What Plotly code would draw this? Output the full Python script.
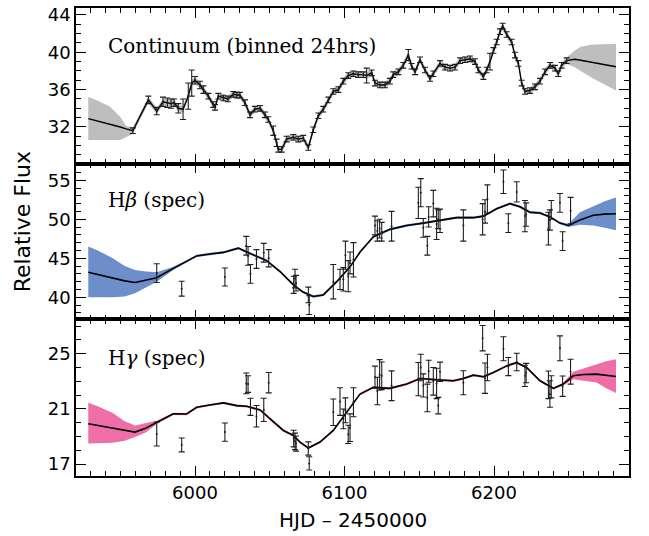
import plotly.graph_objects as go
from plotly.subplots import make_subplots

# ---------------- Continuum (binned 24 hrs) ----------------
cont_x = [5958.4, 5968.8, 5974.4, 5978.6, 5981.5, 5984.0, 5986.0, 5988.8, 5992.0, 5995.5,
          5997.8, 6000.0, 6003.3, 6005.6, 6008.9, 6012.2, 6013.4, 6015.6, 6019.0, 6022.0,
          6025.6, 6028.0, 6030.0, 6033.4, 6036.8, 6040.0, 6043.5, 6046.8, 6049.0, 6052.4,
          6054.6, 6055.7, 6058.0, 6061.3, 6065.8, 6069.1, 6072.4, 6075.8, 6079.1, 6082.5,
          6085.8, 6089.2, 6092.5, 6095.9, 6099.2, 6102.5, 6105.9, 6109.2, 6112.6, 6114.8,
          6118.2, 6120.4, 6123.7, 6127.1, 6130.4, 6132.6, 6136.0, 6139.3, 6142.7, 6144.9,
          6147.2, 6150.5, 6153.8, 6157.2, 6159.4, 6163.9, 6167.2, 6170.6, 6173.9, 6177.3,
          6180.6, 6184.0, 6187.3, 6189.5, 6192.9, 6195.1, 6197.3, 6199.6, 6201.8, 6204.0,
          6205.8, 6208.5, 6211.8, 6214.0, 6216.3, 6218.5, 6220.7, 6224.0, 6227.4, 6230.8,
          6234.1, 6237.5, 6240.8, 6243.0, 6245.2, 6248.6]
cont_y = [31.6, 34.9, 33.7, 34.7, 34.6, 34.5, 34.6, 34.0, 33.9, 35.3,
          36.7, 37.0, 36.5, 36.0, 35.3, 34.4, 34.1, 35.3, 35.1, 35.0,
          35.5, 35.4, 35.4, 34.6, 33.3, 33.9, 34.0, 33.3, 32.8, 31.6,
          30.3, 29.6, 29.6, 30.7, 30.9, 30.7, 30.8, 29.8, 31.7, 33.2,
          33.9, 34.9, 35.8, 36.0, 36.9, 37.5, 37.7, 37.6, 37.6, 37.5,
          37.8, 36.7, 36.5, 36.5, 36.9, 37.6, 37.9, 38.6, 39.7, 38.5,
          37.9, 39.2, 38.1, 37.2, 37.7, 38.8, 38.4, 38.3, 38.4, 39.1,
          39.2, 39.3, 39.0, 38.1, 37.4, 38.1, 39.0, 40.2, 41.1, 42.2,
          42.8, 41.9, 41.1, 39.7, 38.8, 36.7, 35.8, 35.9, 36.3, 36.9,
          37.9, 38.6, 38.3, 37.7, 38.6, 39.1]
cont_err = [0.3, 0.4, 0.4, 0.5, 0.5, 0.5, 0.4, 0.5, 1.1, 1.4,
            1.4, 0.4, 0.4, 0.4, 0.3, 0.3, 0.3, 0.3, 0.3, 0.3,
            0.3, 0.3, 0.3, 0.3, 0.3, 0.3, 0.3, 0.3, 0.3, 0.5,
            0.4, 0.3, 0.3, 0.3, 0.3, 0.3, 0.3, 0.3, 0.3, 0.3,
            0.3, 0.3, 0.3, 0.3, 0.3, 0.3, 0.3, 0.3, 0.3, 0.8,
            0.3, 0.3, 0.3, 0.3, 0.3, 0.3, 0.3, 0.3, 0.6, 0.3,
            0.3, 0.3, 0.3, 0.3, 0.3, 0.3, 0.3, 0.3, 0.3, 0.3,
            0.3, 0.3, 0.3, 0.3, 0.3, 0.3, 0.9, 0.3, 0.3, 0.3,
            0.3, 0.3, 0.3, 0.3, 0.3, 0.3, 0.3, 0.3, 0.3, 0.3,
            0.3, 0.3, 0.3, 0.3, 0.3, 0.3]
cont_band_halfwidth = 0.35
# model extrapolations before / after the data
cont_pre_x = [5928.6, 5935.0, 5943.0, 5950.0, 5954.0]
cont_pre_y = [32.9, 32.65, 32.3, 32.0, 31.8]
cont_pre_hi = [35.2, 34.8, 34.2, 33.1, 32.1]
cont_pre_lo = [30.6, 30.6, 30.6, 30.6, 30.9]
cont_post_x = [6251.0, 6254.0, 6258.0, 6265.0, 6273.0, 6281.6]
cont_post_y = [39.2, 39.25, 39.15, 38.95, 38.7, 38.45]
cont_post_hi = [39.8, 40.2, 40.6, 40.8, 40.85, 40.9]
cont_post_lo = [38.6, 38.4, 38.0, 37.3, 36.6, 35.9]

# ---------------- Spectroscopic epochs ----------------
spec_x = [5974.4, 5991.1, 6020.0, 6034.3, 6035.5, 6037.1, 6041.1, 6046.0, 6049.3, 6066.0,
          6066.9, 6067.6, 6075.8, 6076.4, 6092.5, 6097.0, 6099.2, 6100.6, 6102.5, 6103.7,
          6106.0, 6120.4, 6122.0, 6123.5, 6124.9, 6131.5, 6149.4, 6151.0, 6152.7, 6155.4,
          6156.3, 6159.4, 6161.6, 6162.7, 6163.9, 6179.5, 6192.4, 6194.0, 6195.6, 6206.3,
          6209.6, 6215.2, 6220.7, 6221.5, 6236.4, 6237.4, 6238.3, 6244.1, 6245.9, 6251.2]

hb_y = [43.1, 41.1, 42.6, 46.6, 45.3, 43.0, 44.9, 45.7, 45.0, 41.6,
        42.4, 41.8, 40.3, 39.0, 42.0, 42.3, 42.3, 45.4, 42.7, 44.4,
        44.8, 49.2, 48.5, 48.8, 48.4, 49.1, 52.1, 53.4, 48.9, 46.6,
        50.3, 52.0, 49.4, 50.0, 49.8, 49.2, 50.0, 51.0, 52.6, 54.8,
        49.5, 53.5, 50.4, 50.6, 48.8, 49.9, 51.2, 52.1, 47.2, 51.1]
hb_err = [1.2, 0.95, 1.15, 1.2, 1.2, 1.2, 1.2, 1.2, 1.1, 1.1,
          1.2, 1.0, 1.0, 1.2, 2.2, 1.3, 1.5, 1.8, 2.0, 1.4,
          2.2, 1.2, 1.3, 1.2, 1.2, 1.9, 2.0, 1.8, 1.2, 1.2,
          1.3, 1.7, 2.0, 1.2, 1.5, 2.0, 2.0, 1.5, 1.8, 1.5,
          1.2, 1.3, 2.0, 1.5, 2.1, 1.3, 1.2, 1.2, 1.2, 1.7]

hg_y = [19.18, 18.39, 19.32, 22.85, 22.8, 21.15, 20.47, 20.93, 22.9, 18.85,
        18.65, 18.49, 18.13, 17.05, 20.76, 21.53, 20.28, 20.9, 19.16, 19.64,
        21.48, 23.3, 22.3, 23.47, 23.4, 22.68, 23.16, 24.0, 22.7, 21.8,
        23.73, 23.0, 22.85, 21.24, 23.69, 22.9, 26.13, 23.23, 24.0, 25.36,
        24.07, 24.4, 23.4, 23.6, 22.75, 22.08, 22.6, 25.39, 22.65, 23.7]
hg_err = [0.87, 0.5, 0.66, 0.75, 0.6, 0.62, 0.78, 0.84, 0.74, 0.6,
          0.6, 0.55, 0.48, 0.48, 0.96, 1.0, 0.72, 0.9, 0.66, 1.0,
          1.05, 0.8, 1.0, 1.1, 1.0, 1.08, 1.2, 0.96, 0.84, 1.0,
          0.8, 1.0, 1.1, 0.6, 0.7, 0.87, 0.92, 1.1, 0.96, 0.87,
          0.66, 0.63, 0.77, 0.7, 1.0, 0.96, 0.8, 0.9, 0.74, 0.9]

# ---------------- Model curves (Hbeta) ----------------
hb_mx = [5928.6, 5935.0, 5945.0, 5953.0, 5959.9, 5967.0, 5974.4, 5985.5, 5994.4, 6001.1,
         6010.0, 6019.0, 6029.0, 6033.4, 6047.9, 6056.9, 6065.8, 6072.0, 6079.1, 6085.8,
         6094.8, 6103.7, 6110.4, 6119.3, 6130.4, 6141.6, 6152.7, 6163.9, 6175.0, 6186.2,
         6192.9, 6201.8, 6210.7, 6217.4, 6224.0, 6230.8, 6237.5, 6244.1, 6249.8, 6257.5,
         6266.4, 6274.0, 6281.6]
hb_my = [43.2, 42.9, 42.5, 42.1, 41.9, 42.2, 42.5, 43.7, 44.6, 45.3,
         45.55, 45.75, 46.3, 45.9, 44.7, 43.3, 41.6, 40.7, 40.1, 40.3,
         42.0, 43.9, 45.8, 47.75, 48.7, 49.2, 49.5, 49.9, 50.2, 50.2,
         50.4, 51.35, 52.0, 51.6, 50.9, 50.8, 50.3, 49.5, 49.2, 49.9,
         50.5, 50.65, 50.7]
hb_mhi = [46.5, 46.0, 45.0, 44.0, 43.5, 43.3, 43.2, 43.9, 44.75, 45.45,
          45.7, 45.9, 46.45, 46.05, 44.85, 43.45, 41.75, 40.85, 40.25, 40.45,
          42.15, 44.05, 45.95, 47.9, 48.85, 49.35, 49.65, 50.05, 50.35, 50.35,
          50.55, 51.5, 52.15, 51.75, 51.05, 50.95, 50.45, 49.65, 49.4, 50.9,
          51.65, 52.3, 52.8]
hb_mlo = [40.0, 40.0, 40.0, 40.1, 40.5, 41.2, 42.0, 43.5, 44.45, 45.15,
          45.4, 45.6, 46.15, 45.75, 44.55, 43.15, 41.45, 40.55, 39.95, 40.15,
          41.85, 43.75, 45.65, 47.6, 48.55, 49.05, 49.35, 49.75, 50.05, 50.05,
          50.25, 51.2, 51.85, 51.45, 50.75, 50.65, 50.15, 49.35, 49.0, 49.3,
          49.2, 48.9, 48.6]

# ---------------- Model curves (Hgamma) ----------------
hg_mx = [5928.6, 5935.0, 5945.0, 5953.0, 5959.9, 5967.0, 5974.4, 5985.5, 5994.4, 6001.1,
         6010.0, 6019.0, 6027.9, 6034.6, 6043.5, 6052.4, 6059.1, 6065.8, 6070.2, 6075.8,
         6083.6, 6092.5, 6101.4, 6110.4, 6119.3, 6130.4, 6141.6, 6150.5, 6163.9, 6172.8,
         6179.5, 6186.2, 6192.9, 6199.6, 6208.5, 6215.2, 6221.8, 6230.8, 6239.7, 6246.3,
         6253.0, 6260.0, 6268.6, 6275.0, 6281.6]
hg_my = [19.93, 19.8, 19.6, 19.45, 19.32, 19.6, 20.04, 20.64, 20.63, 21.12,
         21.29, 21.44, 21.24, 21.19, 20.93, 20.04, 19.44, 19.08, 18.6, 18.17,
         18.6, 19.44, 20.76, 22.08, 22.56, 22.49, 22.8, 23.2, 23.1, 23.04,
         23.2, 23.45, 23.33, 23.64, 24.12, 24.35, 24.0, 23.04, 22.49, 22.8,
         23.4, 23.5, 23.52, 23.45, 23.35]
hg_mhi = [21.44, 21.2, 20.7, 20.1, 19.8, 19.95, 20.15, 20.72, 20.71, 21.2,
          21.37, 21.52, 21.32, 21.27, 21.01, 20.12, 19.52, 19.16, 18.68, 18.25,
          18.68, 19.52, 20.84, 22.16, 22.64, 22.57, 22.88, 23.28, 23.18, 23.12,
          23.28, 23.53, 23.41, 23.72, 24.2, 24.43, 24.08, 23.12, 22.57, 22.9,
          23.7, 23.95, 24.24, 24.45, 24.6]
hg_mlo = [18.49, 18.5, 18.55, 18.7, 18.96, 19.3, 19.9, 20.56, 20.55, 21.04,
          21.21, 21.36, 21.16, 21.11, 20.85, 19.96, 19.36, 19.0, 18.52, 18.09,
          18.52, 19.36, 20.68, 22.0, 22.48, 22.41, 22.72, 23.12, 23.02, 22.96,
          23.12, 23.37, 23.25, 23.56, 24.04, 24.27, 23.92, 22.96, 22.41, 22.7,
          23.15, 23.05, 22.92, 22.5, 22.15]

GRAY = "rgb(190,190,190)"
BLUE = "rgb(108,143,204)"
PINK = "rgb(240,110,168)"
ERRC = "rgb(30,30,30)"

fig = make_subplots(rows=3, cols=1, shared_xaxes=True, vertical_spacing=0)


def band(x, lo, hi, color, row):
    fig.add_trace(go.Scatter(x=list(x) + list(x)[::-1], y=list(hi) + list(lo)[::-1],
                             fill="toself", fillcolor=color, line=dict(width=0),
                             mode="lines", hoverinfo="skip", showlegend=False),
                  row=row, col=1)


def line(x, y, row, width=1.6):
    fig.add_trace(go.Scatter(x=x, y=y, mode="lines", line=dict(color="black", width=width),
                             showlegend=False), row=row, col=1)


def errs(x, y, e, row):
    fig.add_trace(go.Scatter(x=x, y=y, mode="markers",
                             marker=dict(color=ERRC, size=2),
                             error_y=dict(type="data", array=e, color=ERRC,
                                          thickness=1.1, width=3),
                             showlegend=False), row=row, col=1)


# Panel 1
cont_hi = [v + cont_band_halfwidth for v in cont_y]
cont_lo = [v - cont_band_halfwidth for v in cont_y]
band(cont_pre_x + cont_x + cont_post_x,
     cont_pre_lo + cont_lo + cont_post_lo,
     cont_pre_hi + cont_hi + cont_post_hi, GRAY, 1)
line(cont_pre_x + cont_x + cont_post_x, cont_pre_y + cont_y + cont_post_y, 1, 1.4)
errs(cont_x, cont_y, cont_err, 1)

# Panel 2
band(hb_mx, hb_mlo, hb_mhi, BLUE, 2)
line(hb_mx, hb_my, 2)
errs(spec_x, hb_y, hb_err, 2)

# Panel 3
band(hg_mx, hg_mlo, hg_mhi, PINK, 3)
line(hg_mx, hg_my, 3)
errs(spec_x, hg_y, hg_err, 3)

TICKFONT = dict(family="DejaVu Sans", size=18, color="black")
axis_common = dict(showline=True, linecolor="black", linewidth=1.6, mirror="ticks",
                   ticks="inside", ticklen=10, tickwidth=1.4, tickcolor="black",
                   showgrid=False, zeroline=False, tickfont=TICKFONT)
minor_common = dict(ticks="inside", ticklen=5, tickwidth=1.1, tickcolor="black", showgrid=False)

for r in (1, 2, 3):
    fig.update_xaxes(range=[5920.4, 6290.3], dtick=100, tick0=0,
                     minor=dict(dtick=10, **minor_common),
                     showticklabels=(r == 3), row=r, col=1, **axis_common)

fig.update_yaxes(range=[28.07, 44.74], dtick=4, tick0=0,
                 minor=dict(dtick=1, **minor_common), row=1, col=1, **axis_common)
fig.update_yaxes(range=[37.17, 57.12], dtick=5, tick0=0,
                 minor=dict(dtick=1, **minor_common), row=2, col=1, **axis_common)
fig.update_yaxes(range=[16.14, 27.49], dtick=4, tick0=1,
                 minor=dict(dtick=1, **minor_common), row=3, col=1, **axis_common)

fig.update_layout(yaxis=dict(domain=[0.6674, 1.0]),
                  yaxis2=dict(domain=[0.3347, 0.6674]),
                  yaxis3=dict(domain=[0.0, 0.3347]))

LABFONT = dict(family="DejaVu Serif", size=20, color="black")
fig.add_annotation(x=5940.5, y=40.7, xref="x", yref="y", text="Continuum (binned 24hrs)",
                   showarrow=False, xanchor="left", yanchor="middle", font=LABFONT)
fig.add_annotation(x=5940.5, y=52.46, xref="x2", yref="y2", text="H<i>β</i> (spec)",
                   showarrow=False, xanchor="left", yanchor="middle", font=LABFONT)
fig.add_annotation(x=5940.5, y=24.7, xref="x3", yref="y3", text="H<i>γ</i> (spec)",
                   showarrow=False, xanchor="left", yanchor="middle", font=LABFONT)

fig.add_annotation(x=-0.0976, y=0.542, xref="paper", yref="paper", text="Relative Flux",
                   showarrow=False, textangle=-90, xanchor="center", yanchor="middle",
                   font=dict(family="DejaVu Sans", size=22, color="black"))
fig.add_annotation(x=0.5, y=-0.0932, xref="paper", yref="paper", text="HJD \u2013 2450000",
                   showarrow=False, xanchor="center", yanchor="middle",
                   font=dict(family="DejaVu Sans", size=20, color="black"))

fig.update_layout(width=649, height=536, plot_bgcolor="white", paper_bgcolor="white",
                  margin=dict(l=76, r=20, t=4, b=60), showlegend=False)

fig.write_html("out.html", config={"displayModeBar": False},
               post_script="document.body.style.margin='0px';document.body.style.overflow='hidden';")
